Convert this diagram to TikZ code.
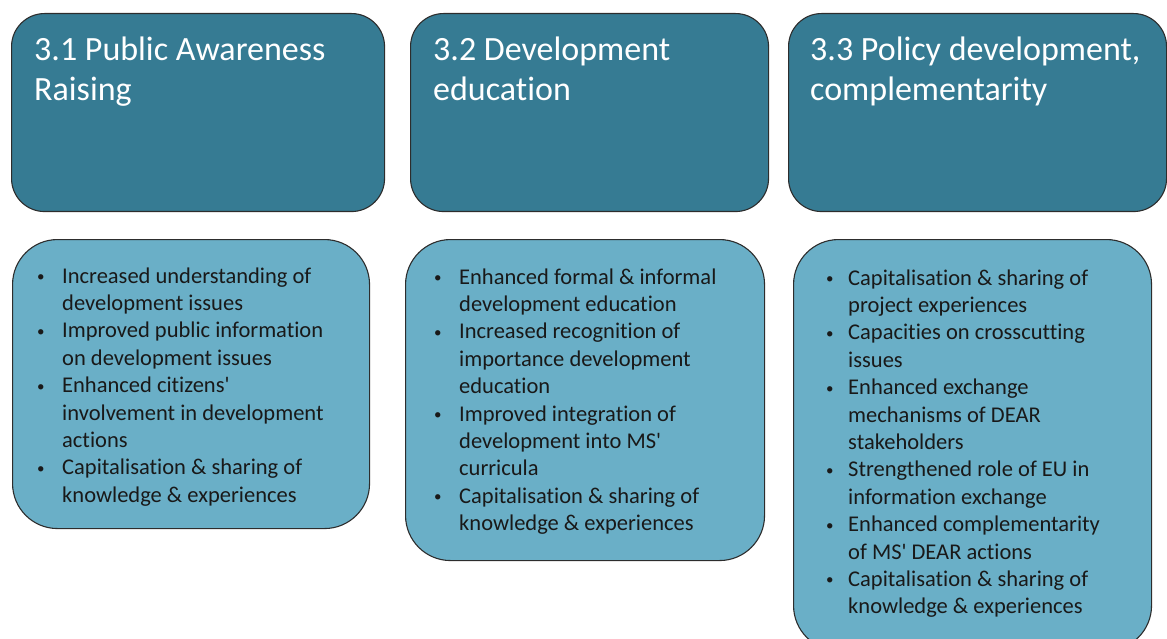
\documentclass[tikz,border=0pt]{standalone}
\usepackage{fontspec}
\setmainfont{Carlito}[Ligatures={NoCommon}]
\definecolor{topfill}{RGB}{54,123,147}
\definecolor{botfill}{RGB}{106,175,199}
\definecolor{edgecol}{RGB}{45,45,45}
\definecolor{bodytext}{RGB}{25,25,25}
\newcommand{\bul}{\raisebox{1.5pt}{\fontsize{15}{15}\selectfont\textbullet}}
\newcommand{\apos}{\textquotesingle}
\tikzset{
  topbox/.style={draw=edgecol, line width=1.1pt, fill=topfill, rounded corners=33pt, inner sep=0pt, anchor=north west},
  botbox/.style={draw=edgecol, line width=1.1pt, fill=botfill, rounded corners=45pt, inner sep=0pt, anchor=north west},
  titletext/.style={text=white, font=\fontsize{34}{40}\selectfont, inner sep=0pt, anchor=base west},
  bullettext/.style={text=bodytext, font=\fontsize{22.5}{27.4}\selectfont, inner sep=0pt, anchor=base west},
}
\begin{document}
\begin{tikzpicture}[x=1pt,y=-1pt]
\useasboundingbox (0,0) rectangle (1167,639);
% top boxes
\node[topbox, minimum width=373pt, minimum height=198pt] (t1) at (11,13) {};
\node[topbox, minimum width=358pt, minimum height=198pt] (t2) at (410,13) {};
\node[topbox, minimum width=378pt, minimum height=198pt] (t3) at (788,13) {};
% bottom boxes
\node[botbox, minimum width=357pt, minimum height=289pt] (b1) at (12,239) {};
\node[botbox, minimum width=359pt, minimum height=321pt] (b2) at (405,239) {};
\node[botbox, minimum width=358pt, minimum height=411pt] (b3) at (793,239) {};
% titles
\node[titletext] (h1) at (34,61) {\begin{tabular}[t]{@{}l@{}}3.1 Public Awareness\\Raising\end{tabular}};
\node[titletext] (h2) at (433,61) {\begin{tabular}[t]{@{}l@{}}3.2 Development\\education\end{tabular}};
\node[titletext] (h3) at (810,61) {\begin{tabular}[t]{@{}l@{}}3.3 Policy development,\\complementarity\end{tabular}};
% bullet lists
\node[bullettext] (l1) at (37,283) {\begin{tabular}[t]{@{}p{25pt}@{}l@{}}
\bul & Increased understanding of\\
 & development issues\\
\bul & Improved public information\\
 & on development issues\\
\bul & Enhanced citizens\apos\\
 & involvement in development\\
 & actions\\
\bul & Capitalisation \& sharing of\\
 & knowledge \& experiences
\end{tabular}};
\node[bullettext] (l2) at (434,284) {\begin{tabular}[t]{@{}p{25pt}@{}l@{}}
\bul & Enhanced formal \& informal\\
 & development education\\
\bul & Increased recognition of\\
 & importance development\\
 & education\\
\bul & Improved integration of\\
 & development into MS\apos\\
 & curricula\\
\bul & Capitalisation \& sharing of\\
 & knowledge \& experiences
\end{tabular}};
\node[bullettext] (l3) at (826,285) {\begin{tabular}[t]{@{}p{22pt}@{}l@{}}
\bul & Capitalisation \& sharing of\\
 & project experiences\\
\bul & Capacities on crosscutting\\
 & issues\\
\bul & Enhanced exchange\\
 & mechanisms of DEAR\\
 & stakeholders\\
\bul & Strengthened role of EU in\\
 & information exchange\\
\bul & Enhanced complementarity\\
 & of MS\apos{} DEAR actions\\
\bul & Capitalisation \& sharing of\\
 & knowledge \& experiences
\end{tabular}};
\end{tikzpicture}
\end{document}
